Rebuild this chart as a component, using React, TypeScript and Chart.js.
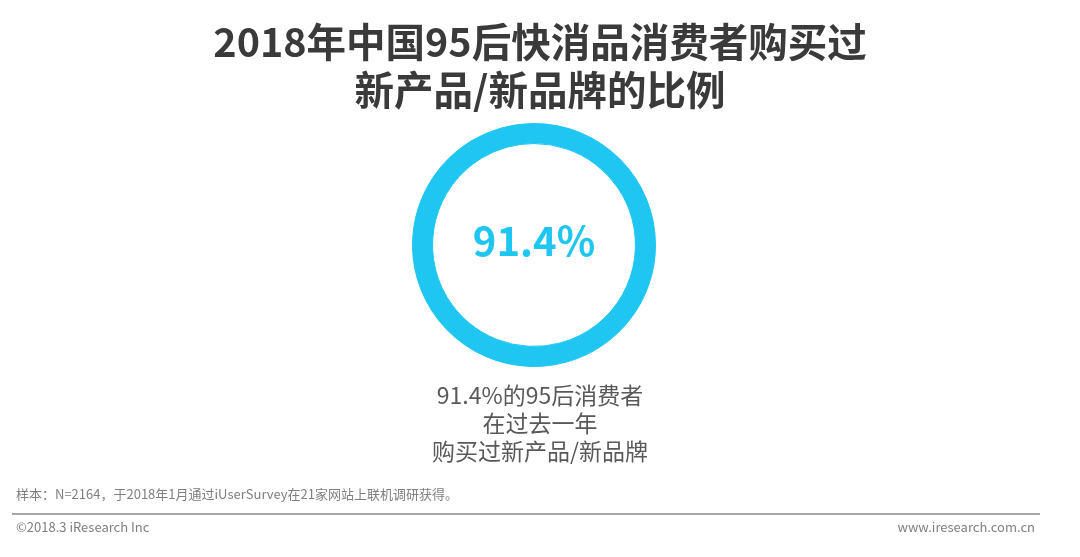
import React, { useEffect, useRef } from "react";
import { Chart, registerables } from "chart.js";

Chart.register(...registerables);

const titleLines = ["2018年中国95后快消品消费者购买过", "新产品/新品牌的比例"];
const categories = ["购买过新产品/新品牌", "未购买"];
const values = [91.4, 8.6];
const centerLabel = "91.4%";
const captionLines = ["91.4%的95后消费者", "在过去一年", "购买过新产品/新品牌"];
const footnote = "样本：N=2164，于2018年1月通过iUserSurvey在21家网站上联机调研获得。";
const copyright = "©2018.3 iResearch Inc";
const website = "www.iresearch.com.cn";

const CYAN = "#1fc6f1";
const FONT = '"Noto Sans CJK SC", "Noto Sans", sans-serif';

const centerTextPlugin = {
  id: "centerText",
  afterDraw(chart: any) {
    const meta = chart.getDatasetMeta(0);
    if (!meta || !meta.data.length) return;
    const arc = meta.data[0];
    const ctx = chart.ctx;
    ctx.save();
    ctx.font = `bold 40px ${FONT}`;
    ctx.fillStyle = CYAN;
    ctx.textAlign = "center";
    ctx.textBaseline = "middle";
    ctx.fillText(centerLabel, arc.x, arc.y - 4);
    ctx.restore();
  },
};

export default function App() {
  const ref = useRef<HTMLCanvasElement | null>(null);
  useEffect(() => {
    document.body.style.margin = "0";
    if (!ref.current) return;
    const chart = new Chart(ref.current, {
      type: "doughnut",
      data: {
        labels: categories,
        datasets: [
          {
            data: values,
            backgroundColor: [CYAN, CYAN],
            borderColor: CYAN,
            borderWidth: 1,
            hoverOffset: 0,
          },
        ],
      },
      options: {
        animation: false,
        responsive: true,
        maintainAspectRatio: false,
        cutout: "83.5%",
        layout: { padding: { top: 123, bottom: 190, left: 0, right: 12 } },
        plugins: {
          legend: { display: false },
          tooltip: { enabled: false },
          title: { display: false },
        },
      },
      plugins: [centerTextPlugin],
    });
    return () => chart.destroy();
  }, []);

  const abs = (s: React.CSSProperties): React.CSSProperties => ({
    position: "absolute",
    fontFamily: FONT,
    whiteSpace: "nowrap",
    ...s,
  });

  return (
    <div style={{ position: "relative", width: 1080, height: 557, background: "#fff", overflow: "hidden" }}>
      <canvas ref={ref} />
      <div
        style={abs({
          left: 0,
          width: 1080,
          top: 16,
          textAlign: "center",
          fontSize: 39.5,
          fontWeight: 700,
          lineHeight: "48px",
          color: "#3a3a3a",
        })}
      >
        {titleLines.map((l, i) => (
          <div key={i}>{l}</div>
        ))}
      </div>
      <div
        style={abs({
          left: 0,
          width: 1080,
          top: 380,
          textAlign: "center",
          fontSize: 23,
          lineHeight: "28px",
          color: "#595959",
        })}
      >
        {captionLines.map((l, i) => (
          <div key={i}>{l}</div>
        ))}
      </div>
      <div style={abs({ left: 16, top: 485, fontSize: 13, lineHeight: "18px", color: "#7f7f7f" })}>{footnote}</div>
      <div style={{ position: "absolute", left: 12, top: 513, width: 1028, height: 2, background: "#a6a6a6" }} />
      <div style={abs({ left: 16, top: 518, fontSize: 13, lineHeight: "18px", color: "#7f7f7f" })}>{copyright}</div>
      <div style={abs({ right: 45, top: 518, fontSize: 13, lineHeight: "18px", color: "#7f7f7f" })}>{website}</div>
    </div>
  );
}
